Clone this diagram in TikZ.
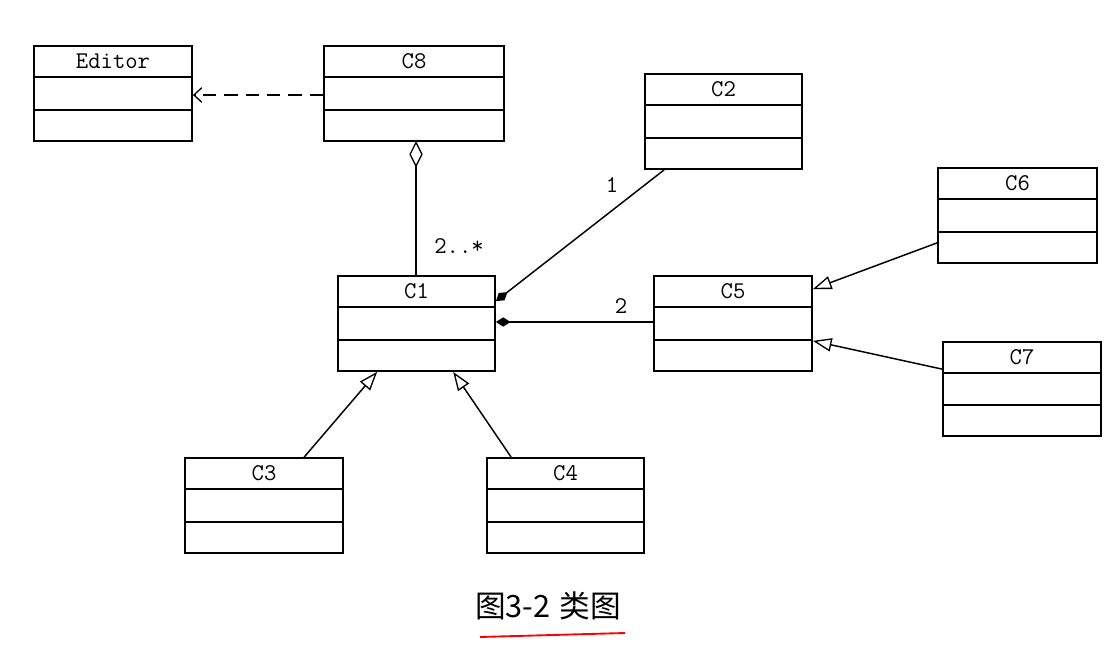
\documentclass[tikz,border=0pt]{standalone}
\usepackage{fontspec}
\newfontfamily\cjk{Noto Sans CJK SC}
\usetikzlibrary{arrows.meta,calc,fit}
\tikzset{
  classbox/.style={draw, line width=1.3pt, inner sep=0pt, fill=white},
  comp/.style={line width=1.4pt},
  ctitle/.style={font=\ttfamily\fontsize{18}{18}\selectfont, inner sep=0pt},
  conn/.style={line width=1.1pt},
  mult/.style={font=\ttfamily\fontsize{18}{18}\selectfont, inner sep=0pt},
  gen/.style={conn, -{Triangle[open, length=14pt, width=10pt, line width=1pt]}},
  comps/.style={conn, {Diamond[length=11pt, width=7pt]}-},
  aggr/.style={conn, {Diamond[open, length=20pt, width=10pt, line width=1pt]}-},
  dep/.style={conn, dash pattern=on 10pt off 6pt, -{Straight Barb[length=6pt, width=11pt, line width=1pt]}}
}
\newcommand\umlclass[6]{%
  \node[classbox, fit={(#2,#3)(#4,#5)}] (#1) {};
  \draw[comp] ($(#1.north west)!1/3!(#1.south west)$) -- ($(#1.north east)!1/3!(#1.south east)$);
  \draw[comp] ($(#1.north west)!2/3!(#1.south west)$) -- ($(#1.north east)!2/3!(#1.south east)$);
  \node[ctitle] (#1t) at ($(#1.north)!1/6!(#1.south)$) {#6};
}
\begin{document}
\begin{tikzpicture}[x=0.75pt, y=-0.75pt]
\useasboundingbox (0,0) rectangle (1112,655);
\umlclass{Editor}{34}{46}{192}{141}{Editor}
\umlclass{C8}{324}{46}{504}{141}{C8}
\umlclass{C2}{645}{74}{802}{169}{C2}
\umlclass{C6}{938}{168}{1097}{263}{C6}
\umlclass{C1}{338}{276}{495}{371}{C1}
\umlclass{C5}{654}{276}{812}{371}{C5}
\umlclass{C7}{943}{342}{1101}{436}{C7}
\umlclass{C3}{185}{458}{343}{553}{C3}
\umlclass{C4}{487}{458}{644}{553}{C4}

\draw[dep] (C8.west |- 0,95) -- (Editor.east |- 0,95);
\draw[aggr] (416,141) coordinate (a8) -- (C1.north -| a8);
\draw[comps] ($(C1.north east)+(0,26)$) -- ($(C2.south west)+(20,0)$);
\draw[comps] (C1.east |- 0,322) -- (C5.west |- 0,322);
\draw[gen] ($(C6.south west)+(0,-21)$) -- ($(C5.north east)+(0,14)$);
\draw[gen] ($(C7.north west)+(0,28)$) -- ($(C5.south east)+(0,-31)$);
\draw[gen] ($(C3.north west)+(120,0)$) -- ($(C1.south west)+(40,0)$);
\draw[gen] ($(C4.north west)+(25,0)$) -- ($(C1.south west)+(116,0)$);

\node[mult] (m1) at (612,185) {1};
\node[mult] (m2) at (459,246) {2..*};
\node[mult] (m3) at (621,306) {2};

\node[font=\cjk\fontsize{23}{23}\selectfont, inner sep=0pt] (cap) at (548,606) {图3-2\hspace{0.3em}类图};
\draw[red, line width=1.4pt] (480,637) coordinate (u1) -- (625,633) coordinate (u2);
\end{tikzpicture}
\end{document}
